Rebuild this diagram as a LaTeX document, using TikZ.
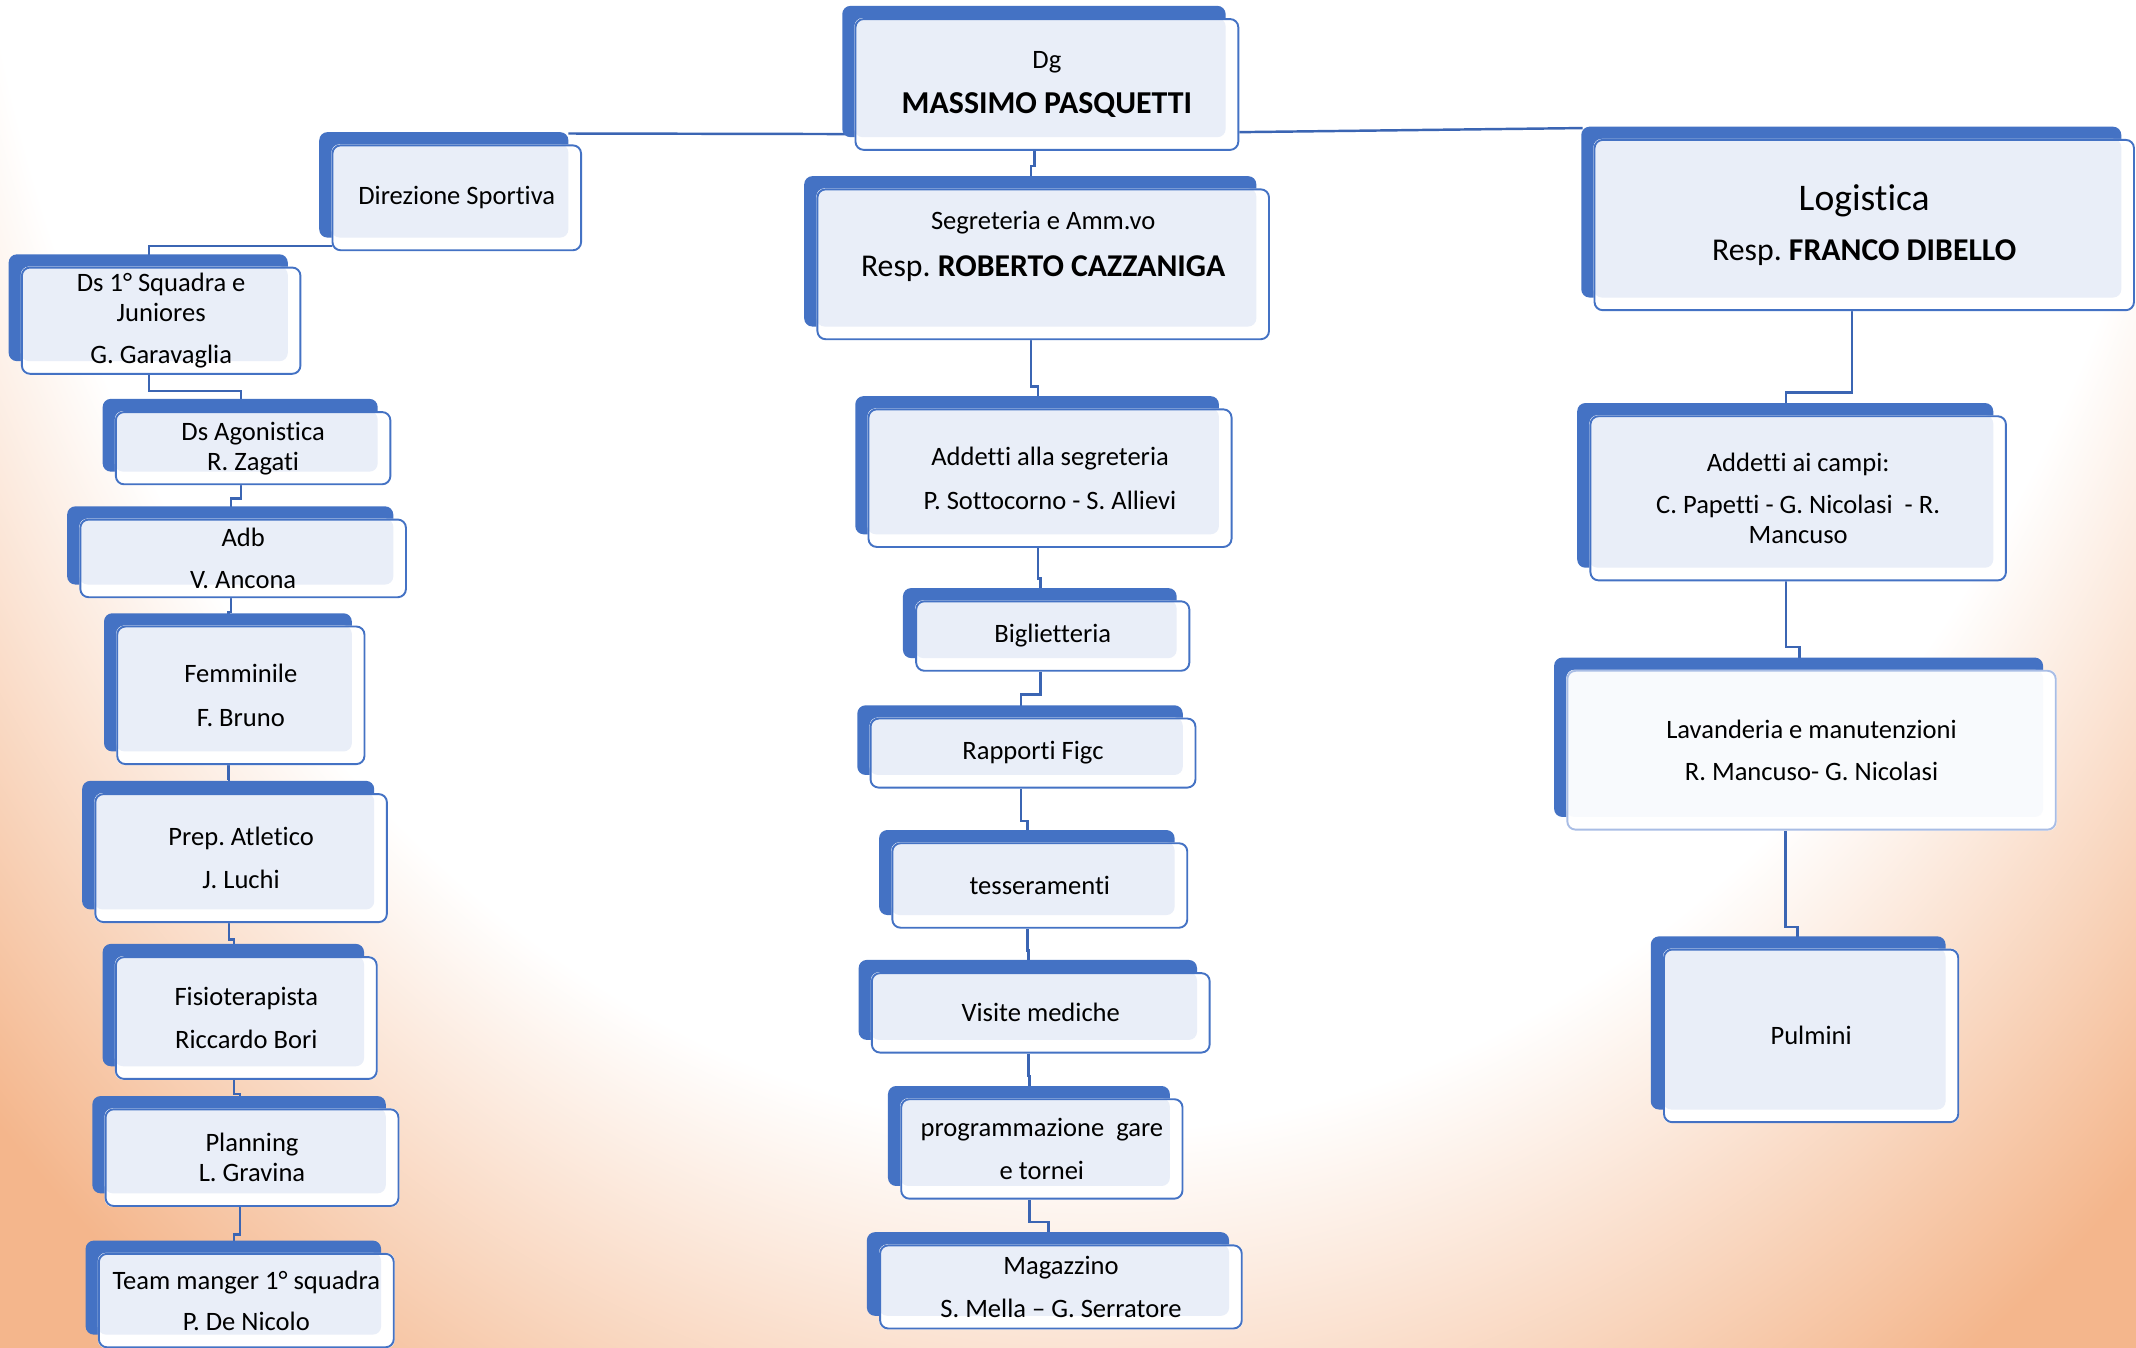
\documentclass[tikz,border=0pt]{standalone}
\usepackage{fontspec}
\setmainfont{Carlito}[Ligatures=NoCommon]
\usepackage{tikz}
\usetikzlibrary{calc}
\definecolor{cardblue}{HTML}{4472C4}
\definecolor{cardfill}{HTML}{E9EEF8}
\definecolor{cardpale}{HTML}{F8FAFD}
\definecolor{paleline}{HTML}{A9BDE5}
\definecolor{linkblue}{HTML}{3B65B3}
\definecolor{peach}{HTML}{F4B68C}
\pgfdeclareradialshading{glow}{\pgfpoint{0bp}{0bp}}{color(0bp)=(white); color(18bp)=(white); color(25bp)=(peach); color(50bp)=(peach)}
\pgfdeclarelayer{bg}
\pgfdeclarelayer{links}
\pgfdeclarelayer{back}
\pgfsetlayers{bg,links,back,main}
\newcommand\cardfont{\fontsize{19.5}{22}\selectfont}
\newcommand\cardname{\fontsize{23.4}{26}\selectfont\bfseries}
\newcommand\cardresp{\fontsize{23.3}{26}\selectfont}
\newcommand\cardhead{\fontsize{27.6}{31}\selectfont}
\newcommand\cardsub{\fontsize{23.3}{26}\selectfont}
\frenchspacing

\begin{document}
\begin{tikzpicture}[x=1pt, y=-1pt,
    card/.style={draw=cardblue, line width=1.4pt, rounded corners=6pt, align=center, inner sep=2pt, font=\cardfont,
      append after command={\pgfextra{\begin{pgfinterruptpath}\begin{pgfonlayer}{back}
        \fill[cardblue, rounded corners=6pt] ([xshift=-9pt,yshift=9pt]\tikzlastnode.north west) rectangle ([xshift=-10pt,yshift=10pt]\tikzlastnode.south east);
        \fill[white, rounded corners=6pt] (\tikzlastnode.north west) rectangle (\tikzlastnode.south east);
        \fill[#1, rounded corners=6pt] (\tikzlastnode.north west) rectangle ([xshift=-10pt,yshift=10pt]\tikzlastnode.south east);
      \end{pgfonlayer}\end{pgfinterruptpath}}}},
    card/.default=cardfill,
    jog/.store in=\jogfrac, jog=0.5,
    link/.style={draw=linkblue, line width=1.8pt,
      to path={([xshift=-9pt]\tikztostart) |- ($(\tikztostart)!\jogfrac!(\tikztotarget)+(-9,0)$) -| ([xshift=-9pt]\tikztotarget)}}]
    \useasboundingbox (0,0) rectangle (1568,989);
    \begin{pgfonlayer}{bg}
      \clip (0,0) rectangle (1568,989);
      \shade[shading=glow] (-350,-1750) rectangle (1950,1250);
    \end{pgfonlayer}

    % top
    \node[card, minimum width=281pt, minimum height=96pt] (dg) at (768.5,62) {Dg\\[11pt]{\cardname MASSIMO PASQUETTI}};
    \node[card, minimum width=182.5pt, minimum height=77pt] (ds) at (335.3,145.2) {Direzione Sportiva};
    \node[card, minimum width=396pt, minimum height=125pt] (logi) at (1368.5,165.2) {{\cardhead Logistica}\\[14.6pt]{\cardsub Resp. \textbf{FRANCO DIBELLO}}};

    % sport
    \node[card, minimum width=204.5pt, minimum height=78pt] (ds1) at (118.3,235.4) {Ds 1° Squadra e\\Juniores\\[9pt]G. Garavaglia};
    \node[card, minimum width=201.5pt, minimum height=53pt] (agon) at (185.8,329) {Ds Agonistica\\R. Zagati};
    \node[card, minimum width=239pt, minimum height=57pt] (adb) at (178.5,409.9) {Adb\\[9pt]V. Ancona};
    \node[card, minimum width=181.5pt, minimum height=101pt] (fem) at (176.8,510.4) {Femminile\\[10pt]F. Bruno};
    \node[card, minimum width=214pt, minimum height=94pt] (prep) at (177,629.9) {Prep. Atletico\\[9.5pt]J. Luchi};
    \node[card, minimum width=191.5pt, minimum height=89.4pt] (fisio) at (180.8,747.3) {Fisioterapista\\[9.5pt]Riccardo Bori};
    \node[card, minimum width=215pt, minimum height=71pt] (plan) at (185,849.8) {Planning\\L. Gravina};
    \node[card, minimum width=216.5pt, minimum height=68.6pt] (team) at (180.8,954.7) {Team manger 1° squadra\\[8pt]P. De Nicolo};

    % segreteria
    \node[card, minimum width=331.5pt, minimum height=110pt,
      label={[name=segtext, yshift=13pt, align=center, font=\cardfont]center:{Segreteria e Amm.vo\\[12.5pt]{\cardresp Resp. \textbf{ROBERTO CAZZANIGA}}}}] (seg) at (765.8,194) {};
    \node[card, minimum width=266.5pt, minimum height=101pt] (addseg) at (770.8,351) {Addetti alla segreteria\\[10pt]P. Sottocorno - S. Allievi};
    \node[card, minimum width=200.5pt, minimum height=51pt] (bigl) at (772.8,466.9) {Biglietteria};
    \node[card, minimum width=238.5pt, minimum height=50.7pt] (figc) at (758.3,552.8) {Rapporti Figc};
    \node[card, minimum width=216.5pt, minimum height=62pt] (tess) at (763.3,650) {tesseramenti};
    \node[card, minimum width=248pt, minimum height=58.3pt] (visite) at (764,743.5) {Visite mediche};
    \node[card, minimum width=206.5pt, minimum height=73pt] (prog) at (764.8,843.4) {programmazione\ \ gare\\[10pt]e tornei};
    \node[card, minimum width=265.5pt, minimum height=61pt] (mag) at (778.8,944.7) {Magazzino\\[9pt]S. Mella – G. Serratore};

    % logistica
    \node[card, minimum width=305pt, minimum height=120.5pt] (campi) at (1320,365.8) {Addetti ai campi:\\[9pt]C. Papetti - G. Nicolasi\ \ - R.\\Mancuso};
    \node[card=cardpale, draw=paleline, minimum width=358.5pt, minimum height=116.6pt] (lav) at (1329.8,550.7) {Lavanderia e manutenzioni\\[9pt]R. Mancuso- G. Nicolasi};
    \node[card, minimum width=216pt, minimum height=126.7pt] (pul) at (1329.5,760.4) {Pulmini};

    \begin{pgfonlayer}{links}
    \draw[draw=linkblue, line width=1.8pt] ([xshift=-10pt,yshift=8pt]ds.north east) -- ([yshift=12pt]dg.south) -- ([xshift=-8pt,yshift=8pt]logi.north west);
    \path[link]
    (dg.south) edge[jog=0.4] (seg.north)
    (seg.south) edge[jog=0.68] (addseg.north)
    (addseg.south) edge[jog=0.58] (bigl.north)
    (bigl.south) edge (figc.north)
    (figc.south) edge[jog=0.6] (tess.north)
    (tess.south) edge (visite.north)
    (visite.south) edge (prog.north)
    (prog.south) edge (mag.north)
    (ds.center) edge[jog=0.7] (ds1.north)
    (ds1.south) edge[jog=0.45] (agon.north)
    (agon.south) edge[jog=0.4] (adb.north)
    (adb.south) edge (fem.north)
    (fem.south) edge (prep.north)
    (prep.south) edge (fisio.north)
    (fisio.south) edge (plan.north)
    (plan.south) edge[jog=0.6] (team.north)
    (logi.south) edge[jog=0.78] (campi.north)
    (campi.south) edge[jog=0.74] (lav.north)
    ;
    \draw[draw=linkblue, line width=1.8pt] ([xshift=-19pt]lav.south) |- ([xshift=-10pt,yshift=16pt]pul.north) -- ([xshift=-10pt]pul.north);
    \end{pgfonlayer}
\end{tikzpicture}
\end{document}
